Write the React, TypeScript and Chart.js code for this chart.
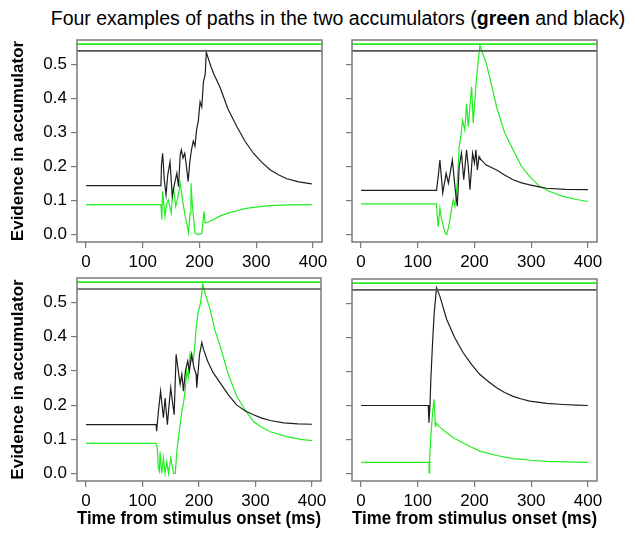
import React, { useEffect, useRef } from 'react';
import { Chart, registerables } from 'chart.js';

Chart.register(...registerables);

// ---- axes / constants ----
const X_TICKS = [0, 100, 200, 300, 400];
const Y_TICKS = [0, 0.1, 0.2, 0.3, 0.4, 0.5];
const X_MIN = -16;
const X_MAX = 416;
const Y_MIN = -0.022;
const Y_MAX = 0.572;
const GREEN_THRESHOLD = 0.56;
const BLACK_THRESHOLD = 0.54;

const TITLE_PRE = 'Four examples of paths in the two accumulators (';
const TITLE_GREEN = 'green';
const TITLE_POST = ' and black)';
const Y_TITLE = 'Evidence in accumulator';
const X_TITLE = 'Time from stimulus onset (ms)';

// ---- panel 1 (top left) ----
const p1BlackT = [0, 132, 133, 135, 138, 141, 144, 148, 152, 156, 160, 163, 166, 168, 171, 174, 177, 180, 183, 186, 189, 192, 195, 198, 201, 204, 207, 210, 212, 216, 220, 225, 236, 250, 266, 280, 295, 310, 325, 340, 354, 375, 398];
const p1BlackV = [0.144, 0.144, 0.205, 0.239, 0.16, 0.117, 0.175, 0.214, 0.112, 0.15, 0.18, 0.141, 0.235, 0.249, 0.225, 0.239, 0.2, 0.156, 0.215, 0.25, 0.275, 0.26, 0.31, 0.335, 0.39, 0.375, 0.45, 0.47, 0.536, 0.515, 0.495, 0.473, 0.434, 0.37, 0.317, 0.275, 0.239, 0.212, 0.19, 0.175, 0.164, 0.155, 0.149];
const p1GreenT = [0, 132, 133.5, 135, 139, 142, 145, 150, 154, 158, 162, 166, 170, 174.7, 178, 180.6, 183.5, 185, 187.6, 192, 198, 204, 208, 210, 219, 236, 250, 266, 280, 295, 325, 360, 398];
const p1GreenV = [0.088, 0.088, 0.044, 0.127, 0.054, 0.09, 0.102, 0.063, 0.141, 0.083, 0.11, 0.151, 0.102, 0.054, 0.03, 0.005, 0.063, 0.151, 0.083, 0.005, 0.0, 0.003, 0.068, 0.034, 0.039, 0.054, 0.063, 0.07, 0.076, 0.08, 0.085, 0.087, 0.088];

// ---- panel 2 (top right) ----
const p2BlackT = [0, 133, 136, 139, 144, 150, 154, 158, 161, 165.5, 169.6, 173, 177, 181, 186, 189, 192, 196.6, 200, 202.5, 205, 208, 209.5, 220, 239, 253, 268, 283, 297.5, 312, 327, 360, 400];
const p2BlackV = [0.13, 0.13, 0.17, 0.219, 0.122, 0.18, 0.151, 0.19, 0.219, 0.141, 0.083, 0.2, 0.239, 0.161, 0.249, 0.2, 0.132, 0.239, 0.21, 0.249, 0.19, 0.229, 0.224, 0.205, 0.19, 0.175, 0.161, 0.152, 0.146, 0.141, 0.136, 0.133, 0.132];
const p2GreenT = [0, 133, 134, 136, 139, 142, 148, 151, 154, 156.7, 160, 162.5, 165.5, 169.6, 173, 176, 179, 183, 186, 189, 192, 195, 197.7, 200.7, 203.7, 206, 209.5, 215, 221, 230, 239, 253, 268, 283, 297.5, 315, 335, 356, 380, 400];
const p2GreenV = [0.09, 0.09, 0.063, 0.024, 0.078, 0.044, 0.005, 0.0, 0.02, 0.044, 0.08, 0.102, 0.083, 0.151, 0.258, 0.29, 0.336, 0.307, 0.385, 0.317, 0.38, 0.434, 0.327, 0.395, 0.463, 0.5, 0.556, 0.53, 0.502, 0.44, 0.375, 0.3, 0.249, 0.2, 0.17, 0.141, 0.125, 0.112, 0.103, 0.097];

// ---- panel 3 (bottom left) ----
const p3BlackT = [0, 124, 125, 128, 132, 137, 140, 144, 147, 150, 153, 156, 159.5, 162.5, 166.6, 169.6, 172.5, 176, 180, 183, 187, 191, 195, 196, 201, 205, 208, 215, 225, 237.5, 252, 267, 282, 296.5, 311, 326, 350, 375, 400];
const p3BlackV = [0.143, 0.143, 0.124, 0.18, 0.241, 0.163, 0.221, 0.143, 0.2, 0.251, 0.21, 0.172, 0.349, 0.31, 0.261, 0.29, 0.241, 0.3, 0.329, 0.3, 0.349, 0.31, 0.29, 0.251, 0.349, 0.383, 0.363, 0.33, 0.295, 0.265, 0.23, 0.2, 0.183, 0.172, 0.162, 0.155, 0.148, 0.145, 0.144];
const p3GreenT = [0, 124, 126, 128, 130, 131, 134, 137, 140, 143, 146, 150, 155, 158, 160.7, 165, 169.6, 172, 175.4, 178.4, 181, 184, 187, 190, 193, 195, 199, 203, 206.7, 212, 219.7, 228, 237.5, 252, 267, 282, 296.5, 311, 326, 355.7, 380, 400];
const p3GreenV = [0.088, 0.088, 0.074, 0.016, 0.006, 0.065, 0.0, 0.045, 0.0, 0.035, 0.0, 0.045, 0.0, 0.0, 0.065, 0.124, 0.182, 0.2, 0.241, 0.3, 0.28, 0.349, 0.33, 0.329, 0.38, 0.427, 0.476, 0.5, 0.555, 0.52, 0.48, 0.42, 0.372, 0.29, 0.225, 0.185, 0.152, 0.135, 0.122, 0.108, 0.1, 0.096];

// ---- panel 4 (bottom right) ----
const p4BlackT = [0, 118.5, 119.7, 121.5, 123, 126, 129, 133, 139, 151, 165, 180, 195, 209.5, 225, 239, 253, 268, 283, 297.5, 327, 356, 380, 400];
const p4BlackV = [0.2, 0.2, 0.149, 0.2, 0.276, 0.384, 0.473, 0.546, 0.521, 0.453, 0.4, 0.355, 0.32, 0.291, 0.27, 0.252, 0.238, 0.227, 0.219, 0.213, 0.206, 0.203, 0.201, 0.2];
const p4GreenT = [0, 119.7, 120, 121, 123, 126, 128.5, 129.5, 131, 132, 140, 151, 165, 180, 195, 209.5, 239, 268, 300, 327, 360, 400];
const p4GreenV = [0.033, 0.033, 0.002, 0.05, 0.11, 0.178, 0.218, 0.2, 0.139, 0.149, 0.135, 0.12, 0.103, 0.09, 0.077, 0.066, 0.053, 0.044, 0.039, 0.036, 0.034, 0.033];

// ---- styles ----
const GREEN = '#22ee22';
const BLACK_PATH = '#1e1e1e';
const BLACK_THR = '#555555';
const AXIS_GRAY = '#7a7a7a';
const FONT = "'Liberation Sans', Arial, Helvetica, sans-serif";

const boxPlugin = {
  id: 'panelBox',
  afterDraw(chart: any) {
    const { ctx, chartArea: a } = chart;
    ctx.save();
    ctx.strokeStyle = AXIS_GRAY;
    ctx.lineWidth = 1.5;
    ctx.strokeRect(a.left, a.top, a.right - a.left, a.bottom - a.top);
    ctx.restore();
  },
};

type PanelProps = {
  blackT: number[]; blackV: number[]; greenT: number[]; greenV: number[];
  left: number; top: number; right: number; bottom: number;
  showYLabels: boolean; showXTitle: boolean;
};

function Panel(p: PanelProps) {
  const ref = useRef<HTMLCanvasElement>(null);
  const W = p.showYLabels ? p.left : 25;
  const T = 6;
  const R = 18;
  const H = p.showXTitle ? 537 - p.bottom : 36;
  const cw = p.right - p.left + W + R;
  const ch = p.bottom - p.top + T + H;
  const cl = p.left - W;
  const ct = p.top - T;

  useEffect(() => {
    const toPts = (t: number[], v: number[]) => t.map((x, i) => ({ x, y: v[i] }));
    const chart = new Chart(ref.current as HTMLCanvasElement, {
      type: 'line',
      data: {
        datasets: [
          { data: [{ x: X_MIN, y: GREEN_THRESHOLD }, { x: X_MAX, y: GREEN_THRESHOLD }], borderColor: GREEN, borderWidth: 1.6 },
          { data: [{ x: X_MIN, y: BLACK_THRESHOLD }, { x: X_MAX, y: BLACK_THRESHOLD }], borderColor: BLACK_THR, borderWidth: 1.6 },
          { data: toPts(p.blackT, p.blackV), borderColor: BLACK_PATH, borderWidth: 1.2 },
          { data: toPts(p.greenT, p.greenV), borderColor: GREEN, borderWidth: 1.2 },
        ],
      } as any,
      options: {
        responsive: false,
        animation: false,
        devicePixelRatio: 1,
        layout: { padding: { top: T, right: R, left: 0, bottom: 0 } },
        elements: { point: { radius: 0 }, line: { tension: 0, fill: false } },
        plugins: { legend: { display: false }, tooltip: { enabled: false } },
        scales: {
          x: {
            type: 'linear',
            min: X_MIN,
            max: X_MAX,
            afterBuildTicks: (s: any) => { s.ticks = X_TICKS.map((v) => ({ value: v })); },
            afterFit: (s: any) => { s.height = H; s.paddingLeft = 0; s.paddingRight = 0; },
            ticks: { autoSkip: false, maxRotation: 0, minRotation: 0, padding: 4, color: '#000', font: { family: FONT, size: 17 }, callback: (v: any) => String(v) },
            grid: { drawOnChartArea: false, drawTicks: true, tickLength: 6, color: AXIS_GRAY, lineWidth: 1.2 },
            border: { display: false },
            title: { display: p.showXTitle, text: X_TITLE, color: '#000', font: { family: FONT, size: 19, weight: 'bold' }, padding: { top: 0, bottom: 7 } },
          },
          y: {
            type: 'linear',
            min: Y_MIN,
            max: Y_MAX,
            afterBuildTicks: (s: any) => { s.ticks = Y_TICKS.map((v) => ({ value: v })); },
            afterFit: (s: any) => { s.width = W; s.paddingTop = 0; s.paddingBottom = 0; },
            ticks: { autoSkip: false, padding: 4, color: '#000', font: { family: FONT, size: 17 }, callback: (v: any) => (p.showYLabels ? Number(v).toFixed(1) : '') },
            grid: { drawOnChartArea: false, drawTicks: true, tickLength: 6, color: AXIS_GRAY, lineWidth: 1.2 },
            border: { display: false },
            title: { display: p.showYLabels, text: Y_TITLE, color: '#000', font: { family: FONT, size: 17, weight: 'bold' }, padding: { top: 8, bottom: 0 } },
          },
        },
      } as any,
      plugins: [boxPlugin],
    });
    return () => chart.destroy();
  }, []);

  return (
    <canvas
      ref={ref}
      width={cw}
      height={ch}
      style={{ position: 'absolute', left: cl, top: ct, width: cw, height: ch }}
    />
  );
}

export default function App() {
  return (
    <div style={{ position: 'absolute', left: 0, top: 0, width: 635, height: 537, background: '#fff', overflow: 'hidden' }}>
      <div
        style={{
          position: 'absolute', left: 41, top: 7, width: 594, textAlign: 'center',
          fontFamily: FONT, fontSize: 19.5, lineHeight: '22px', color: '#000', whiteSpace: 'nowrap',
        }}
      >
        {TITLE_PRE}<b>{TITLE_GREEN}</b>{TITLE_POST}
      </div>
      <Panel blackT={p1BlackT} blackV={p1BlackV} greenT={p1GreenT} greenV={p1GreenV}
        left={77} top={40} right={322} bottom={242} showYLabels={true} showXTitle={false} />
      <Panel blackT={p2BlackT} blackV={p2BlackV} greenT={p2GreenT} greenV={p2GreenV}
        left={352} top={40} right={597} bottom={242} showYLabels={false} showXTitle={false} />
      <Panel blackT={p3BlackT} blackV={p3BlackV} greenT={p3GreenT} greenV={p3GreenV}
        left={77} top={278} right={321} bottom={481} showYLabels={true} showXTitle={true} />
      <Panel blackT={p4BlackT} blackV={p4BlackV} greenT={p4GreenT} greenV={p4GreenV}
        left={352} top={279} right={597} bottom={481} showYLabels={false} showXTitle={true} />
    </div>
  );
}
